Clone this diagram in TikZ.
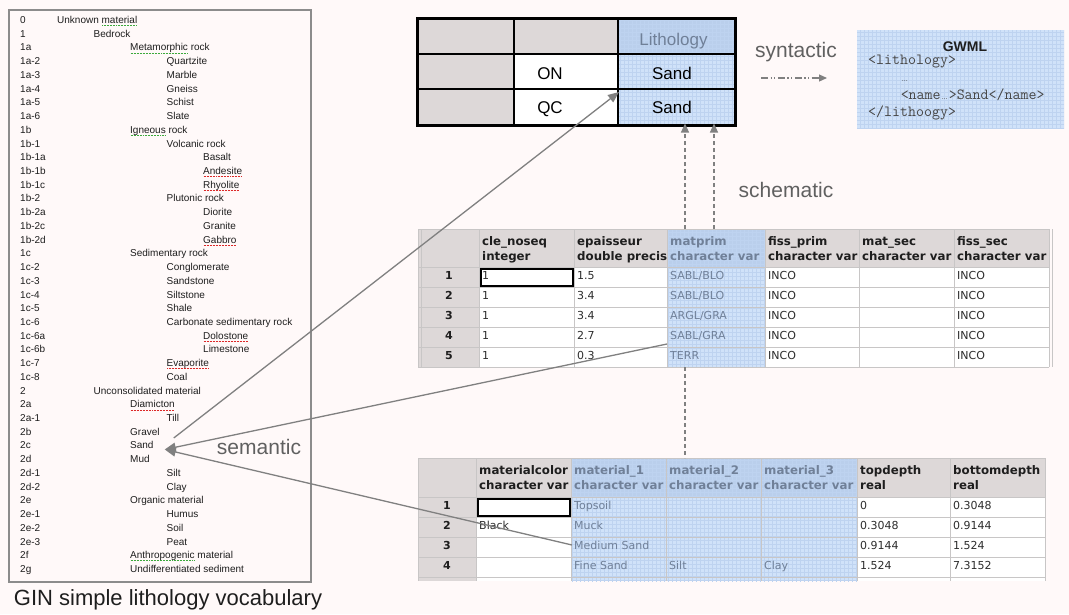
\documentclass[tikz,border=0pt]{standalone}
\usepackage{fontspec}
\setmainfont{Liberation Sans}
\newfontfamily\tahoma{DejaVu Sans}
\usetikzlibrary{arrows.meta}

\definecolor{paper}{RGB}{255,249,249}
\definecolor{hdr}{RGB}{221,216,216}
\definecolor{blu}{RGB}{208,226,249}
\definecolor{bluhd}{RGB}{186,207,236}
\definecolor{blugrid}{RGB}{190,211,240}
\definecolor{bluetext}{RGB}{112,128,152}
\definecolor{gline}{RGB}{200,198,198}
\definecolor{boxgray}{RGB}{140,140,140}
\definecolor{arrowgray}{RGB}{128,128,128}
\definecolor{labelgray}{RGB}{96,96,96}
\definecolor{ink}{RGB}{30,30,30}
\definecolor{celltext}{RGB}{45,45,45}
\definecolor{codegray}{RGB}{70,70,70}
\definecolor{squigred}{RGB}{220,40,40}
\definecolor{squiggreen}{RGB}{60,170,60}

% spell-checker style dotted underline below a word
\newcommand\squig[2]{%
  \setbox0=\hbox{#2}%
  \rlap{\color{#1}\raisebox{-2.4pt}{\hbox to \wd0{\xleaders\hbox to 1.5pt{\hss\rule{0.8pt}{0.7pt}\hss}\hfill}}}%
  \box0\relax}
% narrow ellipsis inside the monospaced listing
\newcommand\dotsmono{\makebox[8.1pt]{\fontsize{7}{7}\rmfamily...}}

\tikzset{
  vocab/.style={anchor=west, inner sep=0pt, font=\fontsize{10}{11}\selectfont, text=ink, text height=7pt, text depth=2pt},
  tt/.style={anchor=base, inner sep=0pt, font=\fontsize{17}{20}\selectfont, text=black},
  tabbox/.style={rectangle, inner sep=0pt, outer sep=0pt},
  hd/.style={anchor=north west, inner sep=0pt, align=left, font=\tahoma\bfseries\fontsize{11.8}{14.5}\selectfont, text=ink},
  hdb/.style={hd, text=bluetext},
  cell/.style={anchor=west, inner sep=0pt, font=\tahoma\fontsize{11}{13}\selectfont, text=celltext, text height=8pt, text depth=2.5pt},
  cellb/.style={cell, text=bluetext},
  rownum/.style={inner sep=0pt, font=\tahoma\bfseries\fontsize{11}{13}\selectfont, text=ink, text height=8pt, text depth=2.5pt},
  gridline/.style={draw=gline, line width=0.8pt},
  bluegrid/.style={draw=blugrid, line width=0.5pt},
  kind/.style={inner sep=0pt, font=\fontsize{21}{24}\selectfont, text=labelgray, text height=15pt, text depth=4pt},
  code/.style={anchor=base west, inner sep=0pt, font=\ttfamily\fontsize{15.5}{17}\selectfont, text=codegray},
  semlink/.style={draw=arrowgray, line width=1.3pt},
  semhead/.style={semlink, -{Triangle[length=11pt,width=9pt]}},
  schemlink/.style={draw=arrowgray, line width=1.2pt, dash pattern=on 4pt off 3pt},
  schemhead/.style={schemlink, -{Triangle[length=9pt,width=8pt]}},
  synhead/.style={draw=arrowgray, line width=1.2pt, dash pattern=on 7pt off 2.5pt on 1.2pt off 2.5pt on 1.2pt off 2.5pt, -{Triangle[length=8pt,width=7pt]}},
}

\begin{document}
\begin{tikzpicture}[x=1pt,y=-1pt]
\fill[paper] (0,0) rectangle (1069,614);
\useasboundingbox (0,0) rectangle (1069,614);

% ---------- vocabulary panel ----------
\node[tabbox, draw=boxgray, line width=1.3pt, minimum width=302pt, minimum height=572pt] (vocab) at (160,296) {};
\foreach \code/\lvl/\txt [count=\i from 0] in {
  0/0/{Unknown \squig{squiggreen}{material}},
  1/1/Bedrock,
  1a/2/{\squig{squiggreen}{Metamorphic} rock},
  1a-2/3/Quartzite, 1a-3/3/Marble, 1a-4/3/Gneiss, 1a-5/3/Schist, 1a-6/3/Slate,
  1b/2/{\squig{squiggreen}{Igneous} rock},
  1b-1/3/Volcanic rock,
  1b-1a/4/Basalt, 1b-1b/4/{\squig{squigred}{Andesite}}, 1b-1c/4/{\squig{squigred}{Rhyolite}},
  1b-2/3/Plutonic rock,
  1b-2a/4/Diorite, 1b-2c/4/Granite, 1b-2d/4/{\squig{squigred}{Gabbro}},
  1c/2/Sedimentary rock,
  1c-2/3/Conglomerate, 1c-3/3/Sandstone, 1c-4/3/Siltstone, 1c-5/3/Shale,
  1c-6/3/Carbonate sedimentary rock,
  1c-6a/4/{\squig{squigred}{Dolostone}}, 1c-6b/4/Limestone,
  1c-7/3/{\squig{squigred}{Evaporite}}, 1c-8/3/Coal,
  2/1/Unconsolidated material,
  2a/2/{\squig{squigred}{Diamicton}}, 2a-1/3/Till,
  2b/2/Gravel, 2c/2/Sand, 2d/2/Mud,
  2d-1/3/Silt, 2d-2/3/Clay,
  2e/2/Organic material,
  2e-1/3/Humus, 2e-2/3/Soil, 2e-3/3/Peat,
  2f/2/{\squig{squiggreen}{Anthropogenic} material},
  2g/2/Undifferentiated sediment}{
  \node[vocab] (vcode-\i) at (20,{21+13.725*\i}) {\code};
  \node[vocab] (vterm-\i) at ({57+36.5*\lvl},{21+13.725*\i}) {\txt};
}
\node[inner sep=0pt, font=\fontsize{22}{24}\selectfont, text=ink] (caption) at (168,600) {GIN simple lithology vocabulary};

% ---------- data table with Lithology column ----------
\node[tabbox, minimum width=318pt, minimum height=107pt] (toptab) at (576,71.5) {};
\foreach \r/\yc/\h in {1/36/36, 2/71.5/35, 3/107/36}
  \foreach \c/\xc/\w in {1/465.5/97, 2/566/104, 3/676.5/117}
    \node[tabbox, minimum width=\w pt, minimum height=\h pt] (t\r\c) at (\xc,\yc) {};
\fill[hdr] (t11.north west) rectangle (t32.south east);
\fill[white] (t22.north west) rectangle (t32.south east);
\fill[blu] (t13.north west) rectangle (t33.south east);
\fill[bluhd] (t13.north west) rectangle (t13.south east);
\begin{scope}
  \clip (t13.north west) rectangle (t33.south east);
  \draw[bluegrid, step=4pt] (616,16) grid (737,127);
\end{scope}
\draw[line width=2pt] (t11.north east) -- (t31.south east);
\draw[line width=2pt] (t12.north east) -- (t32.south east);
\draw[line width=2pt] (t11.south west) -- (t13.south east);
\draw[line width=2pt] (t21.south west) -- (t23.south east);
\draw[line width=3pt] (toptab.north west) rectangle (toptab.south east);
\node[tt, text=bluetext] (lith) at (673.5,45) {Lithology};
\node[tt] (on) at (550,79.5) {ON};
\node[tt] (sandon) at (672,79.5) {Sand};
\node[tt] (qc) at (550,113.5) {QC};
\node[tt] (sandqc) at (672,113.5) {Sand};

% ---------- GWML encoding ----------
\node[tabbox, minimum width=207pt, minimum height=98pt] (gwml) at (960.5,79) {};
\fill[blu] (gwml.north west) rectangle (gwml.south east);
\begin{scope}
  \clip (gwml.north west) rectangle (gwml.south east);
  \draw[bluegrid, step=4pt] (855,28) grid (1066,130);
\end{scope}
\node[inner sep=0pt, font=\bfseries\fontsize{14}{16}\selectfont, text=ink] (gwmltitle) at (965,47) {GWML};
\node[code] (gl1) at (868,64.5) {<lithology>};
\node[code] (gl2) at (868,81) {\hspace*{32.55pt}\dotsmono};
\node[code] (gl3) at (868,99.5) {\hspace*{32.55pt}<name\dotsmono>Sand</name>};
\node[code] (gl4) at (868,116) {</lithoogy>};

% ---------- first database table ----------
\node[tabbox, minimum width=631pt, minimum height=138pt] (midtab) at (733.5,298) {};
\fill[white] (479,267) rectangle (1049,367);
\fill[hdr] (418,229) rectangle (1049,267);
\fill[hdr] (418,267) rectangle (479,367);
\fill[blu] (667,267) rectangle (765,367);
\fill[bluhd] (667,229) rectangle (765,267);
\begin{scope}
  \clip (667,229) rectangle (765,367);
  \draw[bluegrid, step=4pt] (665,227) grid (767,369);
\end{scope}
\foreach \y in {229,267,287,307,327,347,367} \draw[gridline] (418,\y) -- (1049,\y);
\foreach \x in {418,421,479,574,667,765,859,954,1049,1052} \draw[gridline] (\x,229) -- (\x,367);
\foreach \c/\x/\w/\a/\b/\st in {1/479/95/cle\_noseq/integer/hd, 2/574/93/epaisseur/double precis/hd,
    3/667/98/matprim/character var/hdb, 4/765/94/fiss\_prim/character var/hd,
    5/859/95/mat\_sec/character var/hd, 6/954/95/fiss\_sec/character var/hd}{
  \begin{scope}
    \clip (\x,229) rectangle ++(\w,38);
    \node[\st] (mh-\c) at (\x+3,236) {\rule{0pt}{9.5pt}\a\\\b};
  \end{scope}
}
\foreach \r/\y/\e/\m in {1/277/1.5/{SABL/BLO}, 2/297/3.4/{SABL/BLO}, 3/317/3.4/{ARGL/GRA}, 4/337/2.7/{SABL/GRA}, 5/357/0.3/TERR}{
  \node[rownum] (mn-\r) at (449,\y) {\r};
  \node[cell] (mc-\r-1) at (482,\y) {1};
  \node[cell] (mc-\r-2) at (577,\y) {\e};
  \node[cellb] (mc-\r-3) at (670,\y) {\m};
  \node[cell] (mc-\r-4) at (768,\y) {INCO};
  \node[cell] (mc-\r-6) at (957,\y) {INCO};
}
\draw[line width=2pt] (480.5,268.5) rectangle (572.5,286);

% ---------- second database table ----------
\node[tabbox, minimum width=627pt, minimum height=123pt] (bottab) at (731.5,519.5) {};
\fill[white] (476,497) rectangle (1045,581);
\fill[hdr] (418,458) rectangle (1045,497);
\fill[hdr] (418,497) rectangle (476,581);
\fill[blu] (571,497) rectangle (857,581);
\fill[bluhd] (571,458) rectangle (857,497);
\begin{scope}
  \clip (571,458) rectangle (857,581);
  \draw[bluegrid, step=4pt] (569,456) grid (859,583);
\end{scope}
\foreach \y in {458,497,517,537,557,577} \draw[gridline] (418,\y) -- (1045,\y);
\foreach \x in {418,476,571,666,761,857,950,1045} \draw[gridline] (\x,458) -- (\x,581);
\foreach \c/\x/\w/\a/\b/\st in {1/476/95/materialcolor/character var/hd, 2/571/95/material\_1/character var/hdb,
    3/666/95/material\_2/character var/hdb, 4/761/96/material\_3/character var/hdb,
    5/857/93/topdepth/real/hd, 6/950/95/bottomdepth/real/hd}{
  \begin{scope}
    \clip (\x,458) rectangle ++(\w,39);
    \node[\st] (bh-\c) at (\x+3,465) {\rule{0pt}{9.5pt}\a\\\b};
  \end{scope}
}
\foreach \r/\y in {1/507, 2/527, 3/547, 4/567} \node[rownum] (bn-\r) at (447,\y) {\r};
\node[cellb] (mb-1-2) at (574,507) {Topsoil};
\node[cell] (mb-1-5) at (860,507) {0};
\node[cell] (mb-1-6) at (953,507) {0.3048};
\node[cell] (mb-2-1) at (479,527) {Black};
\node[cellb] (mb-2-2) at (574,527) {Muck};
\node[cell] (mb-2-5) at (860,527) {0.3048};
\node[cell] (mb-2-6) at (953,527) {0.9144};
\node[cellb] (mb-3-2) at (574,547) {Medium Sand};
\node[cell] (mb-3-5) at (860,547) {0.9144};
\node[cell] (mb-3-6) at (953,547) {1.524};
\node[cellb] (mb-4-2) at (574,567) {Fine Sand};
\node[cellb] (mb-4-3) at (669,567) {Silt};
\node[cellb] (mb-4-4) at (764,567) {Clay};
\node[cell] (mb-4-5) at (860,567) {1.524};
\node[cell] (mb-4-6) at (953,567) {7.3152};
\draw[line width=2pt] (477.5,498.5) rectangle (569.5,516);

% ---------- relations ----------
\node[kind] (syn) at (796,51.5) {syntactic};
\node[kind] (sch) at (786,192) {schematic};
\node[kind] (sem) at (259,449) {semantic};

\coordinate (syna) at ([shift={(-35pt,-26.5pt)}]syn.center);
\coordinate (synb) at ([shift={(31pt,-26.5pt)}]syn.center);
\draw[synhead] (syna) -- (synb);

\coordinate (d1) at ([xshift=267pt]midtab.north west);
\coordinate (d2) at ([xshift=296pt]midtab.north west);
\draw[schemhead, shorten >=-1.5pt] (d1) -- (d1 |- toptab.south);
\draw[schemhead, shorten >=-1.5pt] (d2) -- (d2 |- toptab.south);
\draw[schemlink] (d1 |- midtab.south) -- (d1 |- bottab.north);

\coordinate (sandtip) at ([xshift=11pt,yshift=-3pt]vterm-31.east);
\coordinate (sandsrc) at ([xshift=20pt,yshift=8.5pt]vterm-31.east);
\draw[semhead] (sandsrc) -- ([xshift=1pt,yshift=-3pt]t33.north west);
\draw[semhead] ([xshift=-3pt,yshift=-7pt]mc-4-3.west) -- (sandtip);
\draw[semhead] ([xshift=-2pt,yshift=2pt]mb-3-2.west) -- (sandtip);
\end{tikzpicture}
\end{document}
